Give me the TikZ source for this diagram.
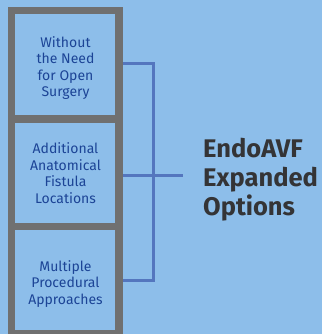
\documentclass[tikz,border=0pt]{standalone}
\usepackage{fontspec}
\setmainfont{Fira Sans}
\definecolor{bg}{RGB}{141,190,234}
\definecolor{frame}{RGB}{112,112,112}
\definecolor{brk}{RGB}{84,118,190}
\definecolor{boxtxt}{RGB}{28,68,150}
\definecolor{title}{RGB}{52,52,54}
\tikzset{
  cell/.style={draw=frame, line width=7.5pt, fill=bg},
  celltext/.style={text=boxtxt, align=center, font=\fontsize{14}{16.6}\selectfont},
  bracket/.style={draw=brk, line width=3pt},
}
\begin{document}
\begin{tikzpicture}[x=1pt,y=-1pt]
\fill[bg] (0,0) rectangle (322,334);
\useasboundingbox (0,0) rectangle (322,334);
\draw[cell] (11.5,10.5) rectangle (119,119);
\draw[cell] (11.5,119) rectangle (119,226.5);
\draw[cell] (11.5,226.5) rectangle (119,334);
\node[celltext] (a) at (65.5,68) {Without\\the Need\\for Open\\Surgery};
\node[celltext] (b) at (65.5,173) {Additional\\Anatomical\\Fistula\\Locations};
\node[celltext] (c) at (65.5,284) {Multiple\\Procedural\\Approaches};
\coordinate (r1) at (123,64);
\coordinate (r2) at (123,175);
\coordinate (r3) at (123,280);
\coordinate (t1) at (153,64);
\coordinate (t3) at (153,280);
\coordinate (m) at (183,175);
\draw[bracket] (r1) -- (t1) -- (t3) -- (r3);
\draw[bracket] (r2) -- (m);
\node[anchor=west, text=title, align=left, font=\fontsize{25.5}{29}\selectfont\bfseries, inner sep=0pt] (t) at (203,180) {EndoAVF\\Expanded\\Options};
\end{tikzpicture}
\end{document}
